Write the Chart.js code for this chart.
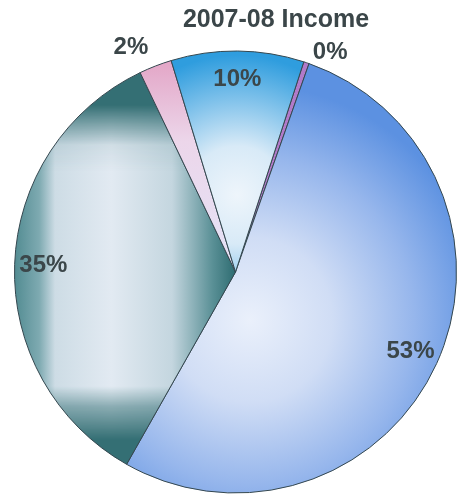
<!DOCTYPE html>
<html>
<head>
<meta charset="utf-8">
<script src="https://cdn.jsdelivr.net/npm/chart.js@4/dist/chart.umd.min.js"></script>
<style>
  body { margin: 0; background: #fff; }
  #wrap { width: 457px; height: 499px; }
</style>
</head>
<body>
<div id="wrap"><canvas id="pie" width="457" height="499"></canvas></div>
<script>
// PIE DATA (clockwise, starting at the thin slice right of top)
let title = "2007-08 Income";
let sources = ["Other", "Source A", "Source B", "Source C", "Source D"];
let share = [0.4, 52.8, 34.7, 2.4, 9.7];

let labelFont = "bold 24px 'Liberation Sans', Arial, sans-serif";
let textColor = "#3b4649";

// teal slice: light box in the middle, dark bands round it
function tealPattern(w, h) {
    let a = document.createElement("canvas");
    a.width = w; a.height = h;
    let ac = a.getContext("2d");
    let gx = ac.createLinearGradient(10, 0, 235, 0);
    gx.addColorStop(0, "#4a868c");
    gx.addColorStop(0.13, "#7eaab1");
    gx.addColorStop(0.2, "#cddce5");
    gx.addColorStop(0.45, "#e2eaf2");
    gx.addColorStop(0.72, "#c4d6df");
    gx.addColorStop(0.9, "#5a9096");
    gx.addColorStop(1, "#2f6d72");
    ac.fillStyle = gx;
    ac.fillRect(0, 0, w, h);
    ac.globalCompositeOperation = "destination-in";
    let gy = ac.createLinearGradient(0, 105, 0, 440);
    gy.addColorStop(0, "rgba(0,0,0,0)");
    gy.addColorStop(0.12, "rgba(0,0,0,0.9)");
    gy.addColorStop(0.2, "rgba(0,0,0,1)");
    gy.addColorStop(0.84, "rgba(0,0,0,1)");
    gy.addColorStop(0.9, "rgba(0,0,0,0.5)");
    gy.addColorStop(1, "rgba(0,0,0,0)");
    ac.fillStyle = gy;
    ac.fillRect(0, 0, w, h);

    let b = document.createElement("canvas");
    b.width = w; b.height = h;
    let bc = b.getContext("2d");
    bc.fillStyle = "#346f74";
    bc.fillRect(0, 0, w, h);
    bc.drawImage(a, 0, 0);
    return bc.createPattern(b, "no-repeat");
}

let fills = null;
function sliceFill(c) {
    let chart = c.chart;
    let ctx = chart.ctx;
    if (!fills) {
        let blue = ctx.createRadialGradient(250, 320, 0, 250, 320, 235);
        blue.addColorStop(0, "#eaf0fb");
        blue.addColorStop(0.35, "#d0ddf5");
        blue.addColorStop(0.7, "#96b6ec");
        blue.addColorStop(1, "#5c91e1");

        let sky = ctx.createRadialGradient(237, 195, 0, 237, 195, 140);
        sky.addColorStop(0, "#eef5fb");
        sky.addColorStop(0.35, "#d8eaf7");
        sky.addColorStop(0.7, "#7cc0ea");
        sky.addColorStop(1, "#2f9dde");

        let pink = ctx.createLinearGradient(0, 60, 0, 240);
        pink.addColorStop(0, "#e3a5c6");
        pink.addColorStop(0.45, "#ecd6ea");
        pink.addColorStop(1, "#e6e0f4");

        fills = ["#b27ac9", blue, tealPattern(chart.width, chart.height), pink, sky];
    }
    return fills[c.dataIndex];
}

// title and percent labels drawn over the pie
let pieText = {
    id: "pieText",
    afterDraw(chart) {
        let ctx = chart.ctx;
        let meta = chart.getDatasetMeta(0);
        let total = share.reduce((s, v) => s + v, 0);
        ctx.save();
        ctx.fillStyle = textColor;
        ctx.font = "bold 25px 'Liberation Sans', Arial, sans-serif";
        ctx.textAlign = "center";
        ctx.textBaseline = "middle";
        ctx.fillText(title, 276, 20);

        ctx.font = labelFont;
        meta.data.forEach((arc, i) => {
            let p = arc.getProps(["x", "y", "startAngle", "endAngle", "outerRadius"], true);
            let mid = (p.startAngle + p.endAngle) / 2;
            let pct = share[i] / total * 100;
            let txt = Math.round(pct) + "%";
            let r, align, dy = 0;
            if (pct >= 5) {
                r = p.outerRadius * 0.87;
                align = "center";
            } else {
                r = p.outerRadius * 1.09;
                align = Math.cos(mid) < 0 ? "right" : "left";
                if (align === "left") dy = 9;
            }
            ctx.textAlign = align;
            ctx.fillText(txt, p.x + Math.cos(mid) * r, p.y + Math.sin(mid) * r + dy);
        });
        ctx.restore();
    }
};

new Chart("pie", {
    type: "pie",
    data: {
        labels: sources,
        datasets: [
            {
                data: share,
                backgroundColor: sliceFill,
                borderColor: "#34474f",
                borderWidth: 1,
                clip: false,
            },
        ],
    },
    options: {
        responsive: false,
        animation: false,
        rotation: 18,
        layout: { padding: { left: 14, right: -3, top: 49, bottom: 4 } },
        plugins: {
            legend: { display: false },
            tooltip: { enabled: false },
            title: { display: false },
        },
    },
    plugins: [pieText],
});
</script>
</body>
</html>
